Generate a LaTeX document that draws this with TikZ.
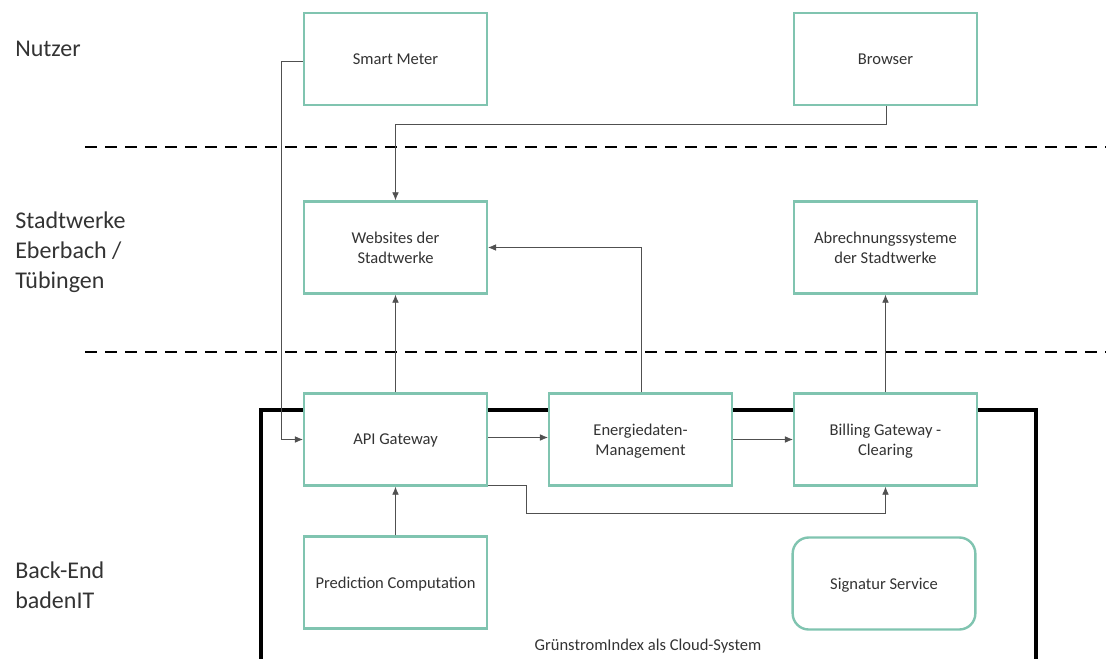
\documentclass[tikz,border=0pt]{standalone}
\usepackage{fontspec}
\setmainfont{Carlito}
\usetikzlibrary{arrows.meta}
\definecolor{boxgreen}{RGB}{128,196,176}
\definecolor{txt}{RGB}{51,51,51}
\definecolor{wire}{RGB}{80,80,80}
\tikzset{
  comp/.style={draw=boxgreen, line width=1.8pt, fill=white, minimum width=137pt,
    minimum height=69pt, align=center, text=txt, font=\fontsize{12.4}{15}\selectfont,
    inner sep=2pt, text depth=0pt},
  roundcomp/.style={comp, rounded corners=12pt},
  layer/.style={anchor=north west, align=left, text=txt, font=\fontsize{18}{22.5}\selectfont, inner sep=0pt},
  sep/.style={dashed, line width=1.6pt, dash pattern=on 9pt off 6pt},
  link/.style={draw=wire, line width=0.6pt, -{Latex[length=6pt,width=5pt]}},
}
\begin{document}
\begin{tikzpicture}[x=0.75pt,y=-0.75pt]
\useasboundingbox (0,0) rectangle (1106,659);
\clip (0,0) rectangle (1106,659);

% layer separators
\draw[sep] (85,147) -- (1106,147);
\draw[sep] (85,352) -- (1106,352);

% layer labels
\node[layer] (lnutzer) at (15,41) {Nutzer};
\node[layer] (lstadt) at (15,212) {Stadtwerke\\Eberbach /\\Tübingen};
\node[layer] (lback) at (15,562) {Back-End\\badenIT};

% cloud system frame
\draw[line width=2.3pt] (261,670) -- (261,410) -- (1036,410) -- (1036,670);
\node[text=txt, font=\fontsize{12.4}{14}\selectfont] (cloud) at (648,646) {GrünstromIndex als Cloud-System};

% components
\node[comp] (meter) at (395.5,59) {Smart Meter};
\node[comp] (browser) at (885.5,59) {Browser};
\node[comp] (web) at (395.5,247.5) {Websites der\\Stadtwerke};
\node[comp] (abr) at (885.5,247.5) {Abrechnungssysteme\\der Stadtwerke};
\node[comp] (api) at (395.5,439.5) {API Gateway};
\node[comp] (edm) at (640.5,439.5) {Energiedaten-\\Management};
\node[comp] (bill) at (885.5,439.5) {Billing Gateway -\\Clearing};
\node[comp] (pred) at (395.5,582.5) {Prediction Computation};
\node[roundcomp] (sig) at (884,583.5) {Signatur Service};

% connections
\coordinate (m1) at (281,61);
\draw[link] (meter.west |- m1) -- (m1) |- (api.west);
\coordinate (b1) at (886,124);
\draw[link] (browser.south -| b1) -- (b1) -| (web.north);
\draw[link] (api.north) -- (web.south);
\coordinate (e1) at (641,247.5);
\draw[link] (edm.north -| e1) -- (e1) -- (web.east |- e1);
\draw[link] (bill.north) -- (abr.south);
\draw[link] ([yshift=1.5pt]api.east) -- ([yshift=1.5pt]edm.west);
\draw[link] (edm.east) -- (bill.west);
\coordinate (g1) at (526,485);
\coordinate (g2) at (526,513);
\draw[link] (api.east |- g1) -- (g1) -- (g2) -| (bill.south);
\draw[link] (pred.north) -- (api.south);
\end{tikzpicture}
\end{document}
